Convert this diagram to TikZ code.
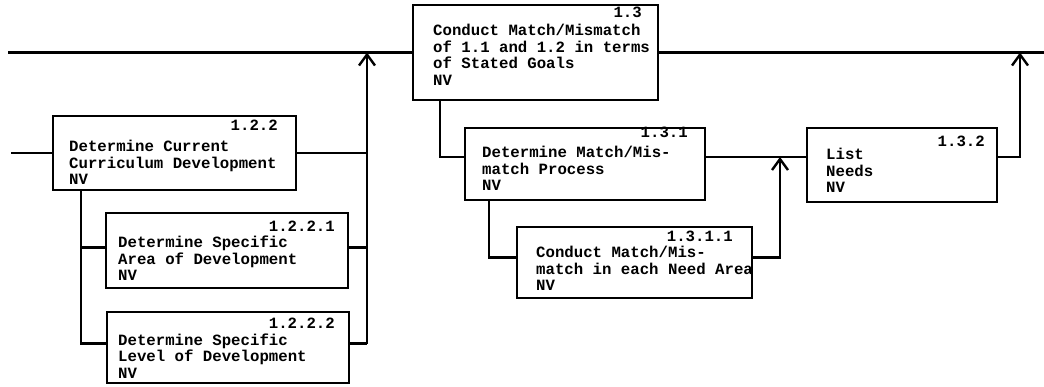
\documentclass[tikz,border=0pt]{standalone}
\usepackage{fontspec}
\newfontfamily\twfont{Liberation Mono}[BoldFont={Liberation Mono Bold}]
\usetikzlibrary{arrows.meta}
\newcommand\boxlines[1]{\vtop{\baselineskip=16.5pt #1}}
\begin{document}
\begin{tikzpicture}[x=1pt,y=-1pt,
  blk/.style={draw,line width=2.2pt,rectangle,inner sep=0pt},
  txt/.style={font=\twfont\bfseries\fontsize{15.7}{16.5}\selectfont,inner sep=0pt,anchor=base west},
  num/.style={font=\twfont\bfseries\fontsize{15.7}{16.5}\selectfont,inner sep=0pt,anchor=base east},
  wire/.style={line width=2.2pt},
  uparrow/.style={line width=2.2pt,-{Straight Barb[length=11pt,width=16pt,line width=2.4pt]}}]
\useasboundingbox (0,0) rectangle (1044,387);

% boxes
\node[blk,minimum width=245pt,minimum height=95pt] (b13) at (535.5,52.5) {};
\node[blk,minimum width=243pt,minimum height=74pt] (b122) at (174.5,153) {};
\node[blk,minimum width=242pt,minimum height=75pt] (b1221) at (227,250.5) {};
\node[blk,minimum width=242pt,minimum height=71pt] (b1222) at (228,347.5) {};
\node[blk,minimum width=240pt,minimum height=72pt] (b131) at (585,164) {};
\node[blk,minimum width=190pt,minimum height=74pt] (b132) at (902,165) {};
\node[blk,minimum width=235pt,minimum height=71pt] (b1311) at (634.5,262.5) {};

% numbers
\node[num] (l13) at (642,18) {1.3};
\node[num] (l122) at (278,131) {1.2.2};
\node[num] (l1221) at (335,232) {1.2.2.1};
\node[num] (l1222) at (335,328) {1.2.2.2};
\node[num] (l131) at (688,138) {1.3.1};
\node[num] (l132) at (985,147) {1.3.2};
\node[num] (l1311) at (733,242) {1.3.1.1};

% texts
\node[txt] (t13) at (433,36) {\boxlines{\hbox{Conduct Match/Mismatch}\hbox{of 1.1 and 1.2 in terms}\hbox{of Stated Goals}\hbox{NV}}};
\node[txt] (t122) at (69,152) {\boxlines{\hbox{Determine Current}\hbox{Curriculum Development}\hbox{NV}}};
\node[txt] (t1221) at (118,248) {\boxlines{\hbox{Determine Specific}\hbox{Area of Development}\hbox{NV}}};
\node[txt] (t1222) at (118,345) {\boxlines{\hbox{Determine Specific}\hbox{Level of Development}\hbox{NV}}};
\node[txt] (t131) at (482,158) {\boxlines{\hbox{Determine Match/Mis-}\hbox{match Process}\hbox{NV}}};
\node[txt] (t132) at (826,160) {\boxlines{\hbox{List}\hbox{Needs}\hbox{NV}}};
\node[txt] (t1311) at (536,258) {\boxlines{\hbox{Conduct Match/Mis-}\hbox{match in each Need Area}\hbox{NV}}};

% free ends and junctions
\coordinate (inL) at (8,52.5);
\coordinate (outR) at (1044,52.5);
\coordinate (in122) at (11,153);
\coordinate (up1) at (367,52.5);
\coordinate (up2) at (780,157);
\coordinate (up3) at (1020,52.5);
\coordinate (drop1) at ([xshift=29pt]b122.south west);
\coordinate (drop2) at ([xshift=28pt]b13.south west);
\coordinate (drop3) at ([xshift=25pt]b131.south west);

% main line
\draw[wire] (inL) -- (b13.west);
\draw[wire] (b13.east) -- (outR);

% left group
\draw[wire] (in122) -- (b122.west);
\draw[wire] (b122.east) -- (b122.east -| up1);
\draw[wire] ([yshift=3pt]b1221.east) -- ([yshift=3pt]b1221.east -| up1);
\draw[wire] ([yshift=4pt]b1222.east) -- ([yshift=4pt]b1222.east -| up1);
\draw[uparrow] ([yshift=4pt]b1222.east -| up1) -- (up1);
\draw[wire] (drop1) |- ([yshift=4pt]b1222.west);
\draw[wire] ([yshift=3pt]b1221.west -| drop1) -- ([yshift=3pt]b1221.west);

% right group
\draw[wire] (drop2) |- ([yshift=7pt]b131.west);
\draw[wire] ([yshift=7pt]b131.east) -- ([yshift=7pt]b131.east -| b132.west);
\draw[wire] (drop3) |- ([yshift=5pt]b1311.west);
\draw[uparrow] ([yshift=5pt]b1311.east) -| (up2);
\draw[uparrow] ([yshift=8pt]b132.east) -| (up3);
\end{tikzpicture}
\end{document}
